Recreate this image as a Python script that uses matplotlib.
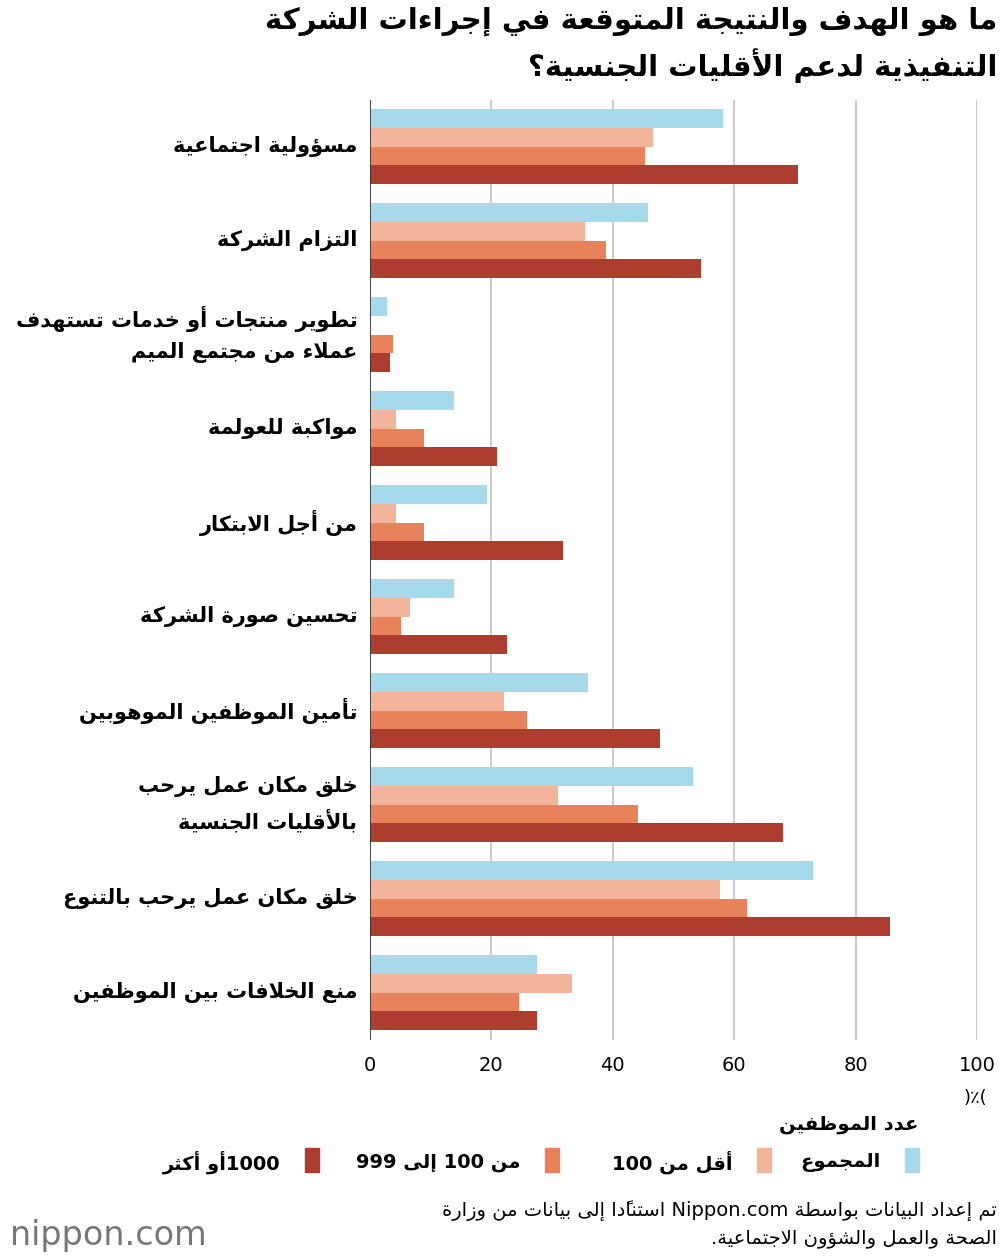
import matplotlib
matplotlib.use("Agg")
import matplotlib.pyplot as plt
import matplotlib.patches as mpatches
import numpy as np

# ---- data ----
categories = [
    "مسؤولية اجتماعية",
    "التزام الشركة",
    "تطوير منتجات أو خدمات تستهدف\nعملاء من مجتمع الميم",
    "مواكبة للعولمة",
    "من أجل الابتكار",
    "تحسين صورة الشركة",
    "تأمين الموظفين الموهوبين",
    "خلق مكان عمل يرحب\nبالأقليات الجنسية",
    "خلق مكان عمل يرحب بالتنوع",
    "منع الخلافات بين الموظفين",
]
total = [58.2, 45.8, 2.8, 13.8, 19.3, 13.8, 35.9, 53.2, 73.0, 27.5]
under_100 = [46.6, 35.4, 0.0, 4.3, 4.3, 6.6, 22.1, 31.0, 57.7, 33.3]
from_100_999 = [45.3, 38.9, 3.8, 8.9, 8.9, 5.1, 25.9, 44.2, 62.1, 24.5]
over_1000 = [70.5, 54.5, 3.3, 20.9, 31.8, 22.6, 47.8, 68.0, 85.7, 27.5]
series_names = ["المجموع", "أقل من 100", "من 100 إلى 999", "1000أو أكثر"]
colors = ["#a6d9ea", "#f2b49a", "#e8825a", "#ad3e2f"]
xticks = [0, 20, 40, 60, 80, 100]


# ---- minimal Arabic shaping + bidi (matplotlib has none) ----
_letters = "ءآأؤإئابةتثجحخدذرزسشصضطظعغفقكلمنهوىي"
_nforms = [1, 2, 2, 2, 2, 4, 2, 4, 2, 4, 4, 4, 4, 4, 2, 2, 2, 2, 4, 4, 4, 4, 4, 4, 4, 4,
           4, 4, 4, 4, 4, 4, 4, 2, 2, 4]
FORMS = {}
_b = 0xFE80
for ch, n in zip(_letters, _nforms):
    FORMS[ch] = (_b, n)
    _b += n
LAMALEF = {"آ": 0xFEF5, "أ": 0xFEF7, "إ": 0xFEF9, "ا": 0xFEFB}


def is_mark(c):
    return 0x064B <= ord(c) <= 0x0652


def is_arabic(c):
    return 0x0600 <= ord(c) <= 0x06FF


def shape_run(run):
    # group base letters with following marks
    groups = []
    for c in run:
        if is_mark(c) and groups:
            groups[-1][1] += c
        else:
            groups.append([c, ""])
    out = []
    i = 0
    n = len(groups)

    def nf(ch):
        return FORMS[ch][1] if ch in FORMS else 0

    while i < n:
        ch, marks = groups[i]
        prev = groups[i - 1][0] if i > 0 else None
        joins_prev = prev is not None and nf(prev) == 4 and nf(ch) > 1
        if ch == "ل" and i + 1 < n and groups[i + 1][0] in LAMALEF:
            code = LAMALEF[groups[i + 1][0]] + (1 if joins_prev else 0)
            out.append(chr(code) + marks + groups[i + 1][1])
            i += 2
            continue
        nxt = groups[i + 1][0] if i + 1 < n else None
        joins_next = nxt is not None and nf(ch) == 4 and nf(nxt) > 1
        if ch in FORMS:
            base, k = FORMS[ch]
            if joins_prev and joins_next:
                idx = 3
            elif joins_prev:
                idx = 1
            elif joins_next:
                idx = 2
            else:
                idx = 0
            idx = min(idx, k - 1) if k > 1 else 0
            out.append(chr(base + idx) + marks)
        else:
            out.append(ch + marks)
        i += 1
    return "".join(reversed(out))


def ar_line(line):
    words = line.split(" ")
    vis = []
    for w in words:
        runs = []
        for c in w:
            a = is_arabic(c)
            if runs and runs[-1][0] == a:
                runs[-1][1] += c
            else:
                runs.append([a, c])
        vis.append("".join(shape_run(t) if a else t for a, t in reversed(runs)))
    return " ".join(reversed(vis))


def ar(text):
    return "\n".join(ar_line(l) for l in text.split("\n"))


plt.rcParams["font.family"] = ["DejaVu Sans"]

fig = plt.figure(figsize=(10, 12.6), dpi=100)
ax = fig.add_axes([0.37, 0.175, 0.607, 0.746])

y = np.arange(len(categories))
h = 0.2
for k, (vals, col) in enumerate(zip([total, under_100, from_100_999, over_1000], colors)):
    ax.barh(y - 0.3 + k * h, vals, height=h, color=col, zorder=3)

ax.set_xlim(0, 100)
ax.set_ylim(len(categories) - 0.5, -0.5)
ax.set_xticks(xticks)
ax.set_xticklabels([str(t) for t in xticks], fontsize=14)
ax.set_yticks([])
ax.grid(axis="x", color="#cccccc", lw=1.5, zorder=0)
for s in ["top", "right", "left"]:
    ax.spines[s].set_visible(False)
ax.spines["bottom"].set_visible(False)
ax.axvline(0, color="#333333", lw=1.2, zorder=4)
ax.tick_params(axis="x", length=0, pad=12)

for yi, cat in zip(y, categories):
    ax.text(-2.1, yi, ar(cat), ha="right", va="center", fontsize=15,
            fontweight="bold", linespacing=1.6, transform=ax.transData)

fig.text(0.975, 1 - 1098 / 1260, ar("(٪)"), ha="center", va="center", fontsize=13)

fig.text(0.997, 1 - 45 / 1260, ar("ما هو الهدف والنتيجة المتوقعة في إجراءات الشركة\nالتنفيذية لدعم الأقليات الجنسية؟"),
         ha="right", va="center", fontsize=21, fontweight="bold", linespacing=1.45)

# legend
fig.text(0.918, 1 - 1125 / 1260, ar("عدد الموظفين"), ha="right", va="center",
         fontsize=14, fontweight="bold")
leg_x = [0.905, 0.757, 0.545, 0.305]
for lx, name, col in zip(leg_x, series_names, colors):
    fig.patches.append(mpatches.Rectangle((lx, 1 - 1172 / 1260), 0.014, 0.019,
                                          transform=fig.transFigure, color=col))
    fig.text(lx - 0.025, 1 - 1162 / 1260, ar(name), ha="right", va="center",
             fontsize=14, fontweight="bold")

fig.text(0.997, 1 - 1224 / 1260,
         ar("تم إعداد البيانات بواسطة Nippon.com استنادًا إلى بيانات من وزارة\nالصحة والعمل والشؤون الاجتماعية."),
         ha="right", va="center", fontsize=14, linespacing=1.5)
fig.text(0.01, 1 - 1235 / 1260, "nippon.com", ha="left", va="center",
         fontsize=24, color="#777777")

fig.savefig("out.png", dpi=100)
